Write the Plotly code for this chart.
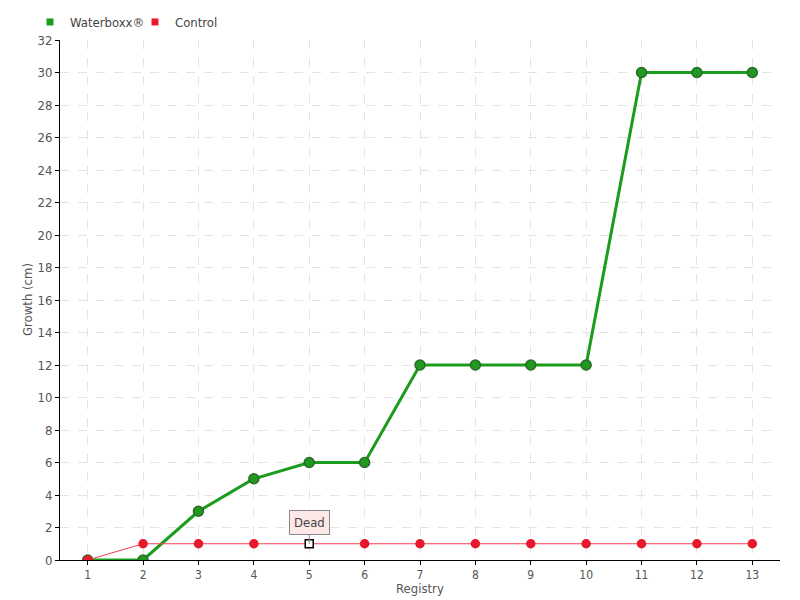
import plotly.graph_objects as go

registry = [str(i) for i in range(1, 14)]
waterboxx = [0, 0, 3, 5, 6, 6, 12, 12, 12, 12, 30, 30, 30]
control = [0, 1, 1, 1, 1, 1, 1, 1, 1, 1, 1, 1, 1]
y_ticks = list(range(0, 33, 2))
dead_index = 4

FONT = "DejaVu Sans Condensed, DejaVu Sans, sans-serif"

ctrl_symbols = ["circle"] * len(control)
ctrl_colors = ["#e8192c"] * len(control)
ctrl_line_colors = ["#e8192c"] * len(control)
ctrl_symbols[dead_index] = "square"
ctrl_colors[dead_index] = "white"
ctrl_line_colors[dead_index] = "black"

fig = go.Figure()
fig.add_trace(go.Scatter(
    x=registry, y=waterboxx, name="Waterboxx®", mode="lines+markers",
    line=dict(color="#1c9c1c", width=3), showlegend=False,
    marker=dict(size=10, color="#1f9a1f", line=dict(color="#2a6a2a", width=1.5)),
))
fig.add_trace(go.Scatter(
    x=registry, y=control, name="Control", mode="lines+markers",
    line=dict(color="#f04050", width=1), showlegend=False,
    marker=dict(size=8, color=ctrl_colors, symbol=ctrl_symbols,
                line=dict(color=ctrl_line_colors, width=1.5)),
))
# legend entries (square swatches)
fig.add_trace(go.Scatter(x=[None], y=[None], name="Waterboxx®", mode="markers",
                         marker=dict(symbol="square", size=7, color="#1c9c1c")))
fig.add_trace(go.Scatter(x=[None], y=[None], name="Control", mode="markers",
                         marker=dict(symbol="square", size=7, color="#e8192c")))

# page has an 8px body margin; plot area is placed at page x 60..780, y 40..560
PLOT_TOP, PLOT_BOTTOM = 32, 552  # figure coordinates
PLOT_H = PLOT_BOTTOM - PLOT_TOP

fig.add_annotation(
    x=dead_index, y=control[dead_index], text="Dead",
    showarrow=True, arrowhead=0, arrowwidth=1, arrowcolor="#888888",
    ax=0, ay=-21, bgcolor="#fde8e8", bordercolor="#888888", borderwidth=1,
    borderpad=4, font=dict(family=FONT, size=13, color="#444444"),
)
fig.add_annotation(
    x=0.5, y=-(588 - 560) / PLOT_H, xref="paper", yref="paper", text="Registry",
    showarrow=False, xanchor="center", yanchor="middle",
    font=dict(family=FONT, size=13, color="#555555"),
)
fig.add_annotation(
    x=-(60 - 27) / 720, y=0.5, xref="paper", yref="paper", text="Growth (cm)",
    showarrow=False, xanchor="center", yanchor="middle", textangle=-90,
    font=dict(family=FONT, size=13, color="#555555"),
)
fig.update_layout(
    width=800, height=600,
    margin=dict(l=52, r=28, t=32, b=48, autoexpand=False),
    plot_bgcolor="white", paper_bgcolor="white",
    font=dict(family=FONT, size=13, color="#555555"),
    legend=dict(orientation="h", x=-(60 - 30) / 720, y=1 + (40 - 22) / PLOT_H,
                xref="paper", yref="paper", entrywidth=60,
                xanchor="left", yanchor="middle", font=dict(size=13, color="#444444"),
                itemwidth=30, bgcolor="rgba(0,0,0,0)"),
    showlegend=True,
)
fig.update_xaxes(
    type="category", showline=True, linecolor="black", linewidth=1,
    ticks="outside", ticklen=4, tickcolor="black", automargin=False,
    showgrid=True, gridcolor="#e4e4e4", griddash="dash",
    range=[-0.5, 12.5], tickfont=dict(size=12),
)
fig.update_yaxes(
    range=[0, 32], tickvals=y_ticks, showline=True, linecolor="black", linewidth=1,
    ticks="outside", ticklen=4, tickcolor="black", automargin=False,
    showgrid=True, gridcolor="#e4e4e4", griddash="dash", zeroline=False,
    tickfont=dict(size=13),
)
fig.write_html("out.html")
